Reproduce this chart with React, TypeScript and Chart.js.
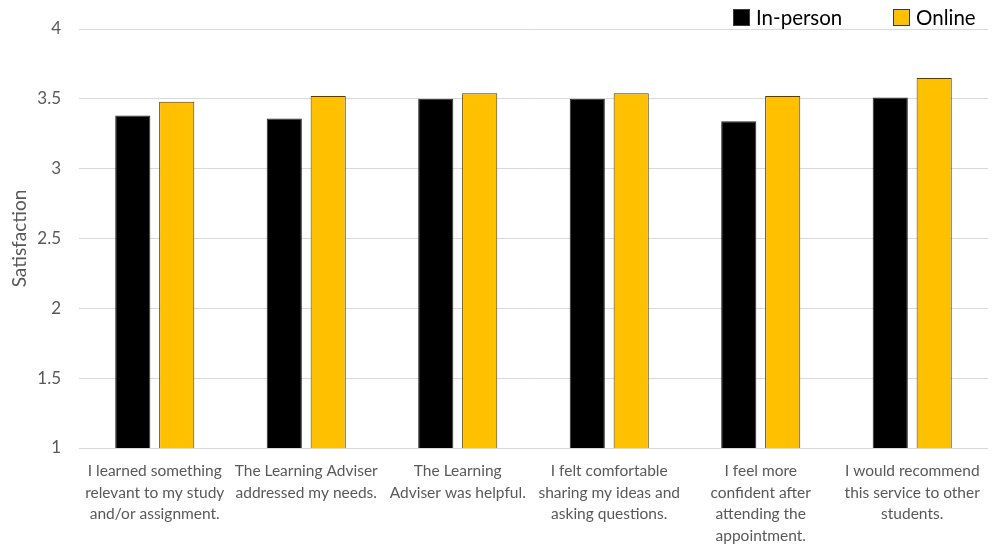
import React, { useEffect, useRef } from "react";
import { Chart, registerables } from "chart.js";

Chart.register(...registerables);

// Survey statements (x-axis categories, wrapped onto lines)
const categories: string[][] = [
  ["I learned something", "relevant to my study", "and/or assignment."],
  ["The Learning Adviser", "addressed my needs."],
  ["The Learning", "Adviser was helpful."],
  ["I felt comfortable", "sharing my ideas and", "asking questions."],
  ["I feel more", "confident after", "attending the", "appointment."],
  ["I would recommend", "this service to other", "students."],
];

// Mean satisfaction scores
const inPerson: number[] = [3.38, 3.36, 3.5, 3.5, 3.34, 3.51];
const online: number[] = [3.48, 3.52, 3.54, 3.54, 3.52, 3.65];

const yTicks: number[] = [1, 1.5, 2, 2.5, 3, 3.5, 4];

const FONT = "Lato, 'Open Sans', sans-serif";
const GREY_TEXT = "#595959";
const GRID = "#d9d9d9";

// Legend drawn in the top-right corner from the dataset labels and colours
const cornerLegend = {
  id: "cornerLegend",
  afterDraw(chart: any) {
    const { ctx } = chart;
    const box = 17;
    const size = 20.5;
    const items = chart.data.datasets;
    const xs = [733, 893];
    const y = 9;
    ctx.save();
    ctx.font = `${size}px ${FONT}`;
    ctx.textBaseline = "middle";
    ctx.textAlign = "left";
    items.forEach((ds: any, i: number) => {
      const x = xs[i];
      ctx.fillStyle = ds.backgroundColor;
      ctx.fillRect(x, y, box, box);
      ctx.lineWidth = 1;
      ctx.strokeStyle = "#3a3a3a";
      ctx.strokeRect(x + 0.5, y + 0.5, box - 1, box - 1);
      ctx.fillStyle = "#000000";
      ctx.fillText(ds.label, x + box + 6, y + box / 2 + 1);
    });
    ctx.restore();
  },
};

export default function App() {
  const canvasRef = useRef<HTMLCanvasElement | null>(null);

  useEffect(() => {
    const canvas = canvasRef.current;
    if (!canvas) return;
    const chart = new Chart(canvas, {
      type: "bar",
      data: {
        labels: categories,
        datasets: [
          {
            label: "In-person",
            data: inPerson,
            backgroundColor: "#000000",
            borderColor: "#262626",
            borderWidth: 1,
            categoryPercentage: 0.58,
            barPercentage: 0.8,
          },
          {
            label: "Online",
            data: online,
            backgroundColor: "#FFC000",
            borderColor: "#4a3c1a",
            borderWidth: 1,
            categoryPercentage: 0.58,
            barPercentage: 0.8,
          },
        ],
      },
      options: {
        responsive: false,
        animation: false,
        layout: { padding: { top: 29, right: 2, left: 0, bottom: 0 } },
        plugins: {
          legend: { display: false },
          tooltip: { enabled: false },
        },
        scales: {
          x: {
            grid: { display: false, drawTicks: false },
            border: { display: true, color: GRID, width: 1 },
            ticks: {
              color: GREY_TEXT,
              font: { family: FONT, size: 15.5, lineHeight: 1.4 },
              padding: 12,
              maxRotation: 0,
              autoSkip: false,
            },
            afterFit(scale: any) {
              scale.height = 102;
            },
          },
          y: {
            min: 1,
            max: 4,
            afterBuildTicks(scale: any) {
              scale.ticks = yTicks.map((v) => ({ value: v }));
            },
            grid: { color: GRID, lineWidth: 1, drawTicks: false },
            border: { display: false },
            ticks: {
              color: GREY_TEXT,
              font: { family: FONT, size: 17 },
              padding: 18,
              callback: (v: any) => String(v),
            },
            title: {
              display: true,
              text: "Satisfaction",
              color: GREY_TEXT,
              font: { family: FONT, size: 19 },
              padding: { top: 8, bottom: 0 },
            },
            afterFit(scale: any) {
              scale.width = 79;
            },
          },
        },
      },
      plugins: [cornerLegend],
    });
    return () => chart.destroy();
  }, []);

  return (
    <div style={{ position: "absolute", left: 0, top: 0, width: 992, height: 550, background: "#ffffff" }}>
      <canvas ref={canvasRef} width={992} height={550} style={{ display: "block" }} />
    </div>
  );
}
